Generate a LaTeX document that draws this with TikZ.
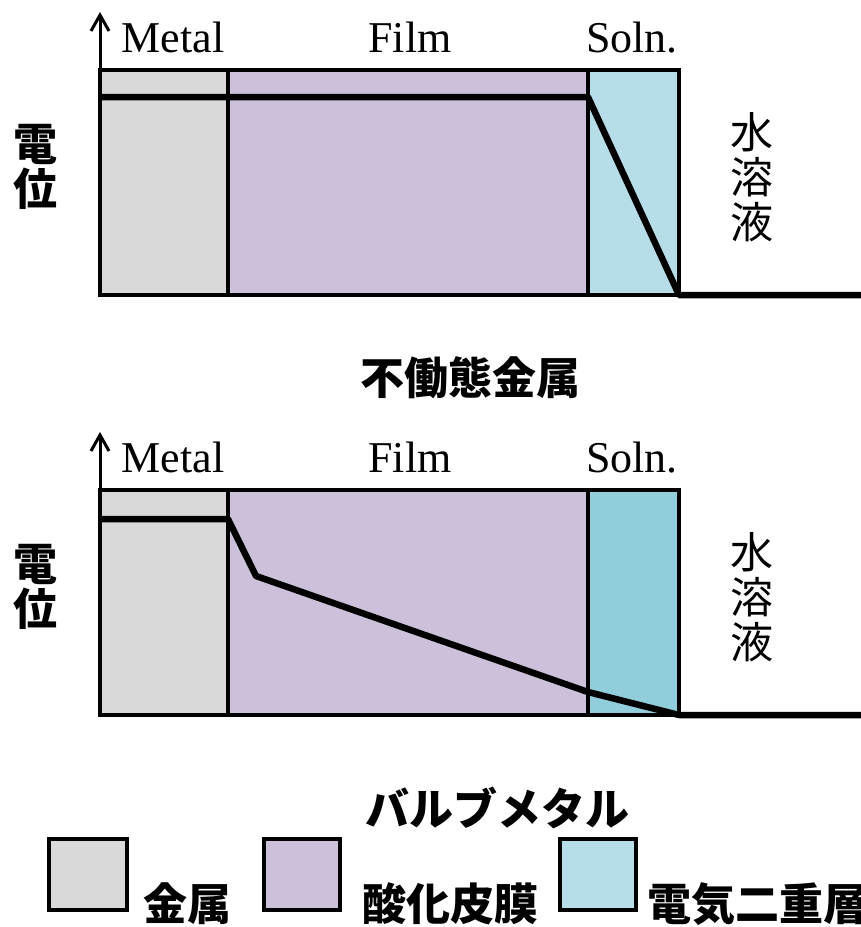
\documentclass[tikz,border=0pt]{standalone}
\usepackage{fontspec}
\setmainfont{Liberation Serif}
\newfontfamily\cjk{Noto Sans CJK JP}
\definecolor{metalc}{HTML}{D9D9D9}
\definecolor{filmc}{HTML}{CCC0DA}
\definecolor{solnc}{HTML}{B7DDE8}
\definecolor{solnd}{HTML}{92CDDC}
\begin{document}
\begin{tikzpicture}[x=1pt,y=-1pt,
  box/.style={draw=black,line width=3.5pt},
  pot/.style={line width=6.5pt,line join=round},
  axisline/.style={line width=3pt},
  headline/.style={line width=3pt,line join=miter},
  lab/.style={font=\fontsize{44}{46}\selectfont,anchor=base,inner sep=0pt},
  cjkb/.style={font=\cjk\bfseries\fontsize{44}{45}\selectfont,inner sep=0pt,align=center},
  cjkr/.style={font=\cjk\fontsize{43}{45}\selectfont,inner sep=0pt,align=center}]
\useasboundingbox (0,0) rectangle (861,927);

% ---------- top panel ----------
\draw[box,fill=metalc] (100,70) rectangle (228,295);
\draw[box,fill=filmc] (228,70) rectangle (588,295);
\draw[box,fill=solnc] (588,70) rectangle (679,295);
\coordinate (a1s) at (100,72);
\coordinate (a1e) at (100,15);
\coordinate (h1l) at (91,31);
\coordinate (h1r) at (109,31);
\draw[axisline] (a1s) -- (a1e);
\draw[headline] (h1l) -- (a1e) -- (h1r);
\node[lab] (m1) at (173,52) {Metal};
\node[lab] (f1) at (410,52) {Film};
\node[lab] (s1) at (632,52) {Soln.};
\coordinate (p1a) at (100,97);
\coordinate (p1b) at (588,97);
\coordinate (p1c) at (679,295);
\coordinate (p1d) at (861,295);
\draw[pot] (p1a) -- (p1b) -- (p1c) -- (p1d);
\node[cjkb] (v1) at (35,167) {電\\位};
\node[cjkr] (w1) at (752,177) {水\\溶\\液};
\node[cjkb] (c1) at (470,378) {不働態金属};

% ---------- bottom panel ----------
\draw[box,fill=metalc] (100,490) rectangle (228,715);
\draw[box,fill=filmc] (228,490) rectangle (588,715);
\draw[box,fill=solnd] (588,490) rectangle (679,715);
\coordinate (a2s) at (100,492);
\coordinate (a2e) at (100,435);
\coordinate (h2l) at (91,451);
\coordinate (h2r) at (109,451);
\draw[axisline] (a2s) -- (a2e);
\draw[headline] (h2l) -- (a2e) -- (h2r);
\node[lab] (m2) at (173,472) {Metal};
\node[lab] (f2) at (410,472) {Film};
\node[lab] (s2) at (632,472) {Soln.};
\coordinate (p2a) at (100,519);
\coordinate (p2b) at (228,519);
\coordinate (p2c) at (256,576);
\coordinate (p2d) at (588,692);
\coordinate (p2e) at (679,715);
\coordinate (p2f) at (861,715);
\draw[pot] (p2a) -- (p2b) -- (p2c) -- (p2d) -- (p2e) -- (p2f);
\node[cjkb] (v2) at (35,587) {電\\位};
\node[cjkr] (w2) at (752,597) {水\\溶\\液};
\node[cjkb] (c2) at (497,808) {バルブメタル};

% ---------- legend ----------
\draw[box,fill=metalc] (49,839) rectangle (127,910);
\draw[box,fill=filmc] (264,839) rectangle (340,910);
\draw[box,fill=solnc] (560,839) rectangle (636,910);
\node[cjkb] (l1) at (187,904) {金属};
\node[cjkb] (l2) at (450,904) {酸化皮膜};
\node[cjkb,anchor=west] (l3) at (647,904) {電気二重層};
\end{tikzpicture}
\end{document}
